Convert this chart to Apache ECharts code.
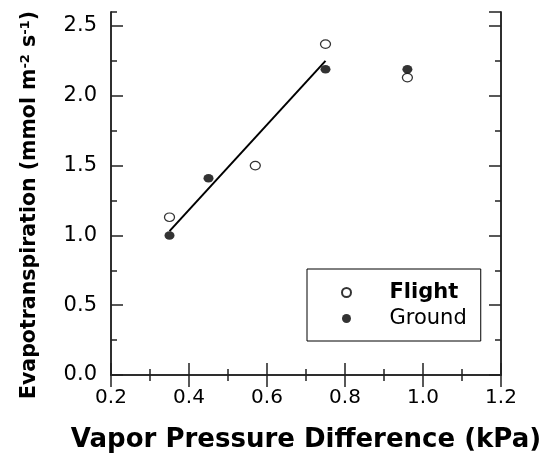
<!DOCTYPE html>
<html>
<head>
<meta charset="utf-8">
<script src="https://cdn.jsdelivr.net/npm/echarts@6/dist/echarts.min.js"></script>
<style>
  html, body { margin: 0; padding: 0; background: #fff; }
  #chart { width: 544px; height: 454px; }
</style>
</head>
<body>
<div id="chart"></div>
<script>
// values
const vpdFlight = [0.35, 0.57, 0.75, 0.96];
const etFlight = [1.13, 1.50, 2.37, 2.13];
const vpdGround = [0.35, 0.45, 0.75, 0.96];
const etGround = [1.00, 1.41, 2.19, 2.19];
// fitted line end points
const fitX = [0.35, 0.75];
const fitY = [1.03, 2.25];
// axes
const xTicks = [0.2, 0.4, 0.6, 0.8, 1.0, 1.2];
const yTicks = [0.0, 0.5, 1.0, 1.5, 2.0, 2.5];
const yMax = 2.6;

const FONT = 'DejaVu Sans';
const LINE = { color: '#222', width: 1.5 };

function pairs(xs, ys) {
  return xs.map((x, i) => [x, ys[i]]);
}

function yAxisDef(position, major) {
  return {
    type: 'value',
    position: position,
    min: yTicks[0],
    max: yMax,
    interval: major ? yTicks[1] - yTicks[0] : (yTicks[1] - yTicks[0]) / 2,
    axisLine: { show: true, lineStyle: LINE },
    axisTick: { show: true, inside: true, length: major ? 12 : 6, lineStyle: LINE },
    axisLabel: {
      show: major && position === 'left',
      showMaxLabel: false,
      margin: 14,
      fontSize: 21,
      fontFamily: FONT,
      color: '#000',
      formatter: v => v.toFixed(1)
    },
    splitLine: { show: false }
  };
}

function xAxisDef(position) {
  return {
    type: 'value',
    position: position,
    min: xTicks[0],
    max: xTicks[xTicks.length - 1],
    interval: xTicks[1] - xTicks[0],
    axisLine: { show: true, lineStyle: LINE },
    axisTick: { show: true, inside: true, length: 12, lineStyle: LINE },
    minorTick: { show: true, splitNumber: 2, length: 6, lineStyle: LINE },
    axisLabel: {
      show: position === 'bottom',
      margin: 13,
      fontSize: 20,
      fontFamily: FONT,
      color: '#000',
      formatter: v => v.toFixed(1)
    },
    splitLine: { show: false },
    minorSplitLine: { show: false }
  };
}

let dom = echarts.init(document.getElementById('chart'));
let xBottom = xAxisDef('bottom');
xBottom.name = 'Vapor Pressure Difference (kPa)';
xBottom.nameLocation = 'middle';
xBottom.nameGap = 52;
xBottom.nameTextStyle = { fontSize: 26, fontWeight: 'bold', fontFamily: FONT, color: '#000' };

dom.setOption({
  animation: false,
  grid: { left: 111, right: 43, top: 12, bottom: 79, outerBoundsMode: 'none' },
  xAxis: [xBottom, xAxisDef('top')],
  yAxis: [
    yAxisDef('left', true),
    yAxisDef('left', false),
    yAxisDef('right', true),
    yAxisDef('right', false)
  ],
  legend: {
    orient: 'vertical',
    left: 307,
    top: 269,
    padding: [13, 14, 12, 34],
    itemWidth: 10,
    itemHeight: 9,
    itemGap: 5,
    borderColor: '#000',
    borderWidth: 1,
    selectedMode: false,
    textStyle: { fontSize: 21, fontFamily: FONT, color: '#000', padding: [0, 0, 0, 33] },
    data: [
      { name: 'Flight', textStyle: { fontWeight: 'bold' } },
      { name: 'Ground' }
    ]
  },
  graphic: [{
    type: 'text',
    x: 30,
    y: 205,
    rotation: Math.PI / 2,
    style: {
      text: 'Evapotranspiration (mmol m{sup|-2} s{sup|-1})',
      fontSize: 20.5,
      fontWeight: 'bold',
      fontFamily: FONT,
      fill: '#000',
      align: 'center',
      verticalAlign: 'middle',
      rich: {
        sup: { fontSize: 13, fontWeight: 'bold', fontFamily: FONT, fill: '#000', verticalAlign: 'top' }
      }
    }
  }],
  series: [
    {
      name: 'fit',
      type: 'line',
      data: pairs(fitX, fitY),
      symbol: 'none',
      silent: true,
      lineStyle: { color: '#000', width: 2 },
      z: 1
    },
    {
      name: 'Flight',
      type: 'scatter',
      data: pairs(vpdFlight, etFlight),
      symbol: 'circle',
      symbolSize: [10, 8.5],
      itemStyle: { color: '#fff', borderColor: '#000', borderWidth: 1.2 },
      z: 2
    },
    {
      name: 'Ground',
      type: 'scatter',
      data: pairs(vpdGround, etGround),
      symbol: 'circle',
      symbolSize: [10, 8.5],
      itemStyle: { color: '#000' },
      z: 3
    }
  ]
});
dom.resize();
</script>
</body>
</html>
